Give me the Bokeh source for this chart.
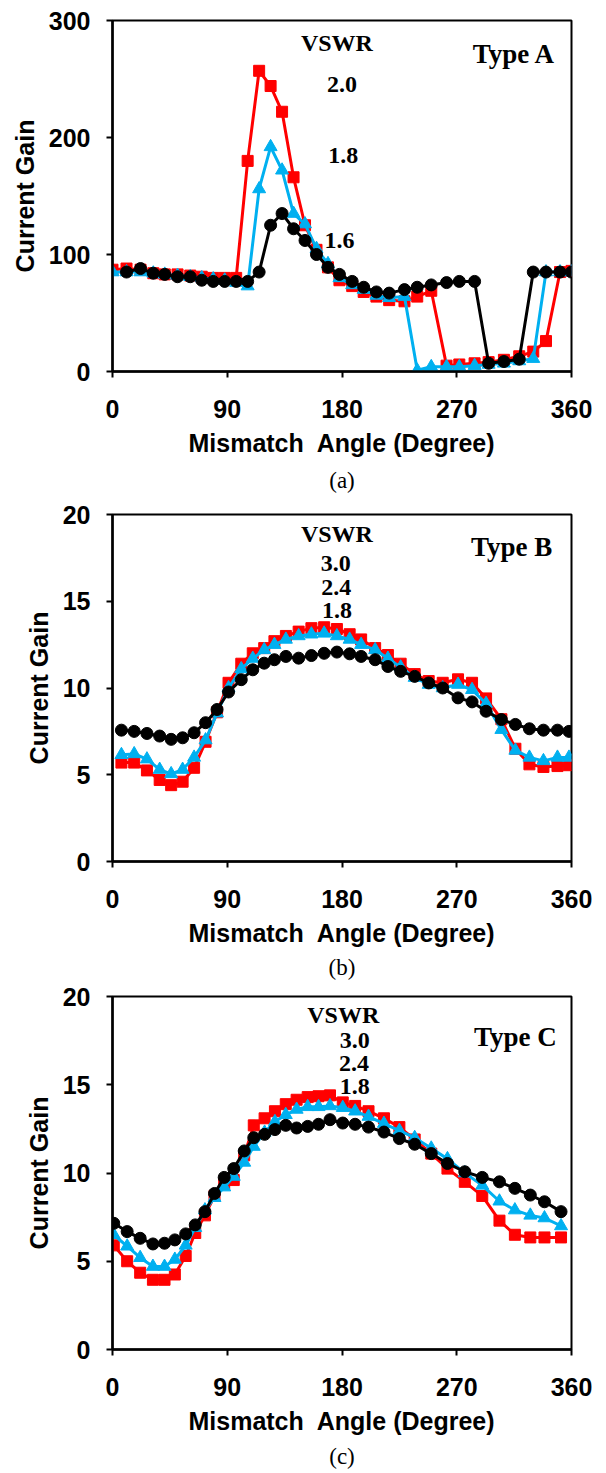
from bokeh.plotting import figure
from bokeh.layouts import column
from bokeh.models import Label, Title, FixedTicker, Range1d
from bokeh.embed import file_html
from bokeh.resources import INLINE

# ---------------- Panel (a) Type A ----------------
angle_a = [0, 11, 22, 32, 41, 51, 61, 70, 79, 88, 97, 106, 115, 124, 133, 142, 151, 160,
           169, 178, 188, 197, 207, 217, 229, 239, 250, 262, 272, 284, 295, 307, 319, 330,
           340, 351, 360]
gain_a_20 = [87, 88, 87, 84, 83, 83, 82, 81, 80, 80, 80, 180, 257, 244, 222, 166, 125, 104,
             89, 78, 73, 68, 64, 61, 60, 64, 69, 5, 6, 7, 8, 10, 13, 17, 26, 85, 86]
gain_a_18 = [85, 85, 85, 84, 83, 82, 81, 80, 79, 78, 76, 73, 156, 192, 172, 135, 126, 105,
             92, 80, 74, 70, 65, 63, 64, 1, 4, 4, 4, 5, 6, 7, 9, 11, 85, 85, 85]
angle_a_16 = angle_a[1:]
gain_a_16 = [85, 88, 84, 83, 81, 81, 78, 77, 77, 77, 77, 85, 125, 135, 122, 112, 100, 89,
             83, 77, 72, 68, 67, 70, 72, 74, 76, 77, 77, 7, 8.5, 10.5, 85, 85, 85, 85]

# ---------------- Panel (b) Type B ----------------
angle_b = [7, 17, 27, 37, 46, 55, 64, 73, 82, 91, 101, 110, 119, 127, 136, 146, 156, 166,
           176, 186, 195, 206, 216, 226, 237, 248, 259, 271, 282, 293, 305, 316, 327, 338,
           349, 358]
gain_b_30 = [5.7, 5.7, 5.25, 4.7, 4.4, 4.6, 5.4, 6.9, 8.6, 10.3, 11.4, 12.0, 12.3, 12.7, 13.0,
             13.25, 13.45, 13.5, 13.4, 13.1, 12.8, 12.3, 11.9, 11.4, 10.8, 10.4, 10.3, 10.5,
             10.3, 9.4, 8.2, 6.5, 5.6, 5.45, 5.5, 5.55]
gain_b_24 = [6.15, 6.2, 5.9, 5.3, 5.05, 5.3, 6.0, 7.0, 8.55, 10.0, 11.1, 11.7, 12.2, 12.5, 12.8,
             13.0, 13.1, 13.15, 13.0, 12.8, 12.5, 12.2, 11.7, 11.2, 10.6, 10.2, 10.0, 10.2,
             9.9, 9.1, 7.6, 6.4, 6.0, 5.8, 6.0, 6.0]
gain_b_18 = [7.57, 7.5, 7.38, 7.23, 7.04, 7.13, 7.42, 8.0, 8.76, 9.77, 10.48, 11.05, 11.43,
             11.63, 11.82, 11.72, 11.87, 12.0, 12.07, 11.97, 11.82, 11.63, 11.24, 10.96,
             10.67, 10.29, 10.0, 9.43, 9.2, 8.66, 8.18, 7.9, 7.65, 7.57, 7.57, 7.5]

# ---------------- Panel (c) Type C ----------------
angle_c = [1, 11.5, 21.7, 31.7, 40.8, 48.9, 57.4, 64.9, 72.5, 80, 87.6, 95.1, 103.3, 110.8,
           119.3, 127.4, 135.9, 144.4, 153.1, 161.6, 170.6, 180.6, 190.3, 200.8, 212.9, 225,
           237, 250, 262.7, 276.3, 290, 303.5, 315.6, 327.7, 338.8, 351.8]
gain_c_30 = [5.9, 5.0, 4.35, 3.95, 3.95, 4.25, 5.3, 6.6, 7.6, 8.7, 9.4, 9.6, 11.0, 12.7, 13.1,
             13.5, 13.9, 14.15, 14.3, 14.35, 14.4, 14.0, 13.8, 13.5, 13.1, 12.6, 11.9, 11.1,
             10.25, 9.5, 8.7, 7.3, 6.5, 6.35, 6.35, 6.35]
gain_c_24 = [6.5, 5.85, 5.2, 4.7, 4.7, 5.1, 5.9, 6.9, 7.9, 8.6, 9.2, 9.8, 10.6, 11.5, 12.3,
             12.9, 13.3, 13.6, 13.75, 13.75, 13.8, 13.7, 13.5, 13.2, 12.8, 12.4, 12.0, 11.4,
             10.8, 10.0, 9.3, 8.4, 7.9, 7.6, 7.45, 7.0]
gain_c_18 = [7.15, 6.68, 6.3, 5.98, 6.02, 6.21, 6.55, 7.06, 7.81, 8.84, 9.75, 10.25, 11.25,
             12.0, 12.19, 12.46, 12.7, 12.55, 12.64, 12.76, 13.02, 12.83, 12.76, 12.6, 12.32,
             11.95, 11.63, 11.1, 10.54, 10.07, 9.75, 9.5, 9.13, 8.75, 8.37, 7.81]

x_ticks = [0, 90, 180, 270, 360]
y_ticks_a = [0, 100, 200, 300]
y_ticks_bc = [0, 5, 10, 15, 20]

RED = "#FF0000"
BLUE = "#00B0F0"
BLACK = "#000000"
SANS = "Liberation Sans"
SERIF = "Liberation Serif"


def make_panel(height, top, bottom, left, right, y_max, y_ticks, series, labels, caption,
               cap_standoff):
    p = figure(width=606, height=height, output_backend="svg", toolbar_location=None,
               x_range=Range1d(0, 360), y_range=Range1d(0, y_max),
               min_border_left=left, min_border_right=right,
               min_border_top=top, min_border_bottom=bottom)
    p.xgrid.visible = False
    p.ygrid.visible = False
    p.outline_line_color = "black"
    p.outline_line_width = 2
    p.outline_line_alpha = 1
    p.background_fill_color = "white"
    p.border_fill_color = "white"

    (xr, yr), (xb, yb), (xk, yk) = series
    p.line(xr, yr, line_color=RED, line_width=3)
    p.scatter(xr, yr, marker="square", size=11, fill_color=RED, line_color=RED)
    p.line(xb, yb, line_color=BLUE, line_width=3)
    p.scatter(xb, yb, marker="triangle", size=13, fill_color=BLUE, line_color=BLUE)
    p.line(xk, yk, line_color=BLACK, line_width=3)
    p.scatter(xk, yk, marker="circle", size=12, fill_color=BLACK, line_color=BLACK)

    p.xaxis.ticker = FixedTicker(ticks=x_ticks)
    p.yaxis.ticker = FixedTicker(ticks=y_ticks)
    p.xaxis.axis_label = "Mismatch\u00a0 Angle (Degree)"
    p.yaxis.axis_label = "Current Gain"
    for ax in (p.xaxis, p.yaxis):
        ax.axis_line_color = "black"
        ax.axis_line_width = 2.5
        ax.major_tick_line_color = "black"
        ax.major_tick_line_width = 2
        ax.major_tick_out = 6
        ax.major_tick_in = 0
        ax.minor_tick_line_color = None
        ax.major_label_text_font = SANS
        ax.major_label_text_font_style = "bold"
        ax.major_label_text_font_size = "25px"
        ax.major_label_text_color = "black"
        ax.axis_label_text_font = SANS
        ax.axis_label_text_font_style = "bold"
        ax.axis_label_text_font_size = "25px"
        ax.axis_label_text_color = "black"
    p.xaxis.major_label_standoff = 22
    p.xaxis.axis_label_standoff = 8
    p.yaxis.major_label_standoff = 16
    p.yaxis.axis_label_standoff = 7

    for text, x, y, size in labels:
        p.add_layout(Label(x=x, y=y, text=text, text_align="center", text_baseline="middle",
                           text_font=SERIF, text_font_style="bold",
                           text_font_size=size, text_color="black"))

    cap = Title(text=caption, align="center", text_font=SERIF, text_font_style="normal",
                text_font_size="23px", text_color="black", standoff=cap_standoff)
    p.add_layout(cap, "below")
    return p


pa = make_panel(498, 20, 126, 109, 35, 300, y_ticks_a,
                [(angle_a, gain_a_20), (angle_a, gain_a_18), (angle_a_16, gain_a_16)],
                [("VSWR", 176, 281, "24px"), ("2.0", 180, 245, "24px"),
                 ("1.8", 181, 185, "24px"), ("1.6", 178, 112, "24px"),
                 ("Type A", 315, 271, "27px")],
                "(a)", 12)

pb = make_panel(485, 16, 121, 107, 35, 20, y_ticks_bc,
                [(angle_b, gain_b_30), (angle_b, gain_b_24), (angle_b, gain_b_18)],
                [("VSWR", 176, 18.85, "24px"), ("3.0", 175, 17.17, "24px"),
                 ("2.4", 175.5, 15.82, "24px"), ("1.8", 176, 14.48, "24px"),
                 ("Type B", 313, 18.1, "27px")],
                "(b)", 7)

pc = make_panel(490, 13, 123, 112, 34, 20, y_ticks_bc,
                [(angle_c, gain_c_30), (angle_c, gain_c_24), (angle_c, gain_c_18)],
                [("VSWR", 181, 18.93, "24px"), ("3.0", 190, 17.5, "24px"),
                 ("2.4", 189.5, 16.2, "24px"), ("1.8", 190, 14.88, "24px"),
                 ("Type C", 316, 17.7, "27px")],
                "(c)", 9)

layout = column(pa, pb, pc, spacing=0)
open("out.html", "w").write(file_html(layout, INLINE))
